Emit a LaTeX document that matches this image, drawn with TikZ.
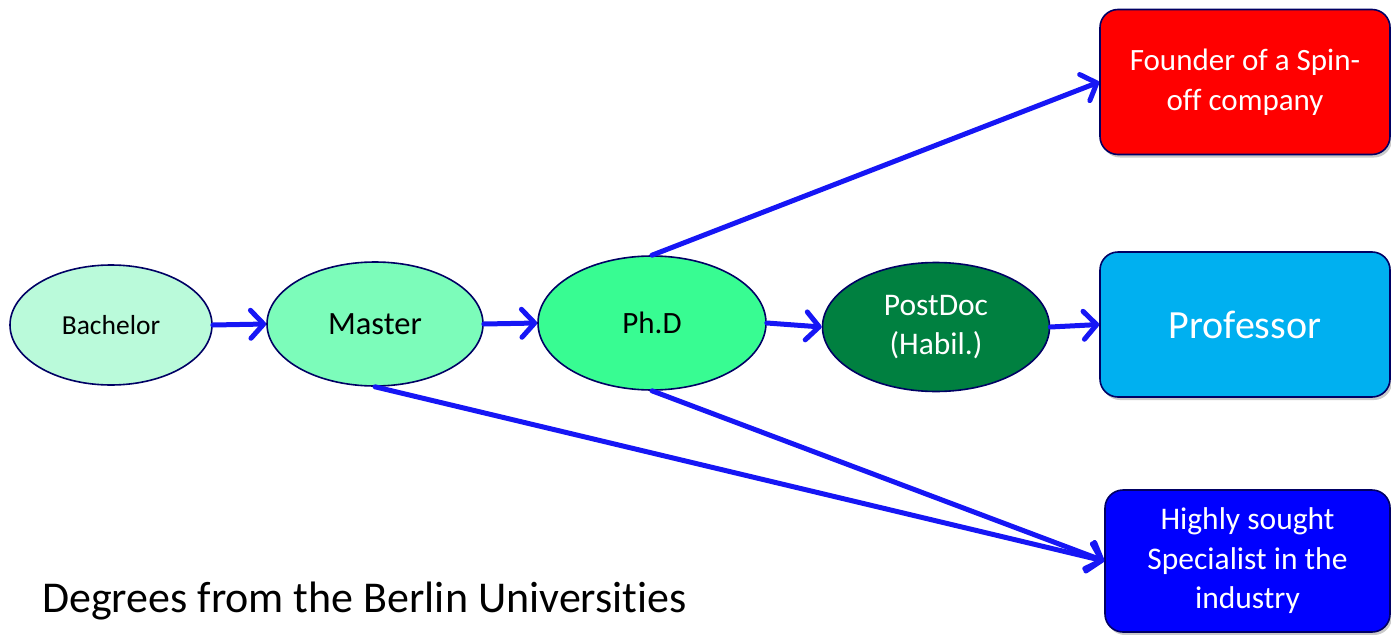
\documentclass[tikz,border=0pt]{standalone}
\usepackage{fontspec}
\setmainfont{Carlito}[Ligatures=NoCommon]
\usetikzlibrary{shapes.geometric,arrows.meta,shadows}

\definecolor{bach}{RGB}{186,250,218}
\definecolor{mast}{RGB}{124,252,186}
\definecolor{phd}{RGB}{56,252,146}
\definecolor{postdoc}{RGB}{0,128,64}
\definecolor{prof}{RGB}{0,176,240}
\definecolor{found}{RGB}{255,0,0}
\definecolor{spec}{RGB}{0,0,255}
\definecolor{edge}{RGB}{0,0,100}
\definecolor{flow}{RGB}{22,22,245}

\tikzset{
  stage/.style={ellipse, draw=edge, line width=1.6pt, inner sep=0pt, align=center},
  career/.style={rectangle, rounded corners=18pt, draw=edge, line width=1.6pt,
    inner sep=0pt, align=center, text=white,
    minimum width=290pt, minimum height=145pt,
    drop shadow={shadow xshift=2pt, shadow yshift=-3pt, opacity=0.35, fill=black!60}},
  path/.style={draw=flow, line width=5pt, line cap=round,
    -{Straight Barb[length=13pt, width=28pt, line width=5pt, line cap=round, line join=round]}},
}

\begin{document}
\begin{tikzpicture}[x=1pt, y=-1pt]
  \useasboundingbox (0,0) rectangle (1391,634);

  % degree stages
  \node[stage, fill=bach, minimum width=202pt, minimum height=120pt,
        font=\fontsize{27.5}{32}\selectfont] (bachelor) at (111,325) {Bachelor};
  \node[stage, fill=mast, minimum width=216pt, minimum height=124pt,
        font=\fontsize{32.5}{38}\selectfont] (master) at (375,324) {Master};
  \node[stage, fill=phd, minimum width=228pt, minimum height=134pt,
        font=\fontsize{31}{36}\selectfont] (phd) at (652,323) {Ph.D};
  \node[stage, fill=postdoc, text=white, minimum width=227pt, minimum height=129pt,
        font=\fontsize{31.5}{39}\selectfont] (postdoc) at (936,327) {PostDoc\\(Habil.)};

  % career outcomes
  \node[career, fill=found, font=\fontsize{31}{40}\selectfont]
        (founder) at (1245,82) {Founder of a Spin-\\off company};
  \node[career, fill=prof, font=\fontsize{40}{48}\selectfont]
        (professor) at (1245,324.5) {Professor};
  \node[career, fill=spec, minimum width=285pt, minimum height=142pt,
        font=\fontsize{31.5}{39.5}\selectfont]
        (specialist) at (1247.5,561) {Highly sought\\Specialist in the\\industry};

  % caption
  \node[anchor=base west, inner sep=0pt, font=\fontsize{44}{52}\selectfont]
        (caption) at (42,612) {Degrees from the Berlin Universities};

  % transitions
  \draw[path] (bachelor.east) -- (master.west);
  \draw[path] (master.east) -- (phd.west);
  \draw[path] (phd.east) -- (postdoc.west);
  \draw[path] (postdoc.east) -- (professor.west);
  \draw[path] (phd.north) -- (founder.west);
  \draw[path] (master.south) -- (specialist.west);
  \draw[path] (phd.south) -- (specialist.west);
\end{tikzpicture}
\end{document}
